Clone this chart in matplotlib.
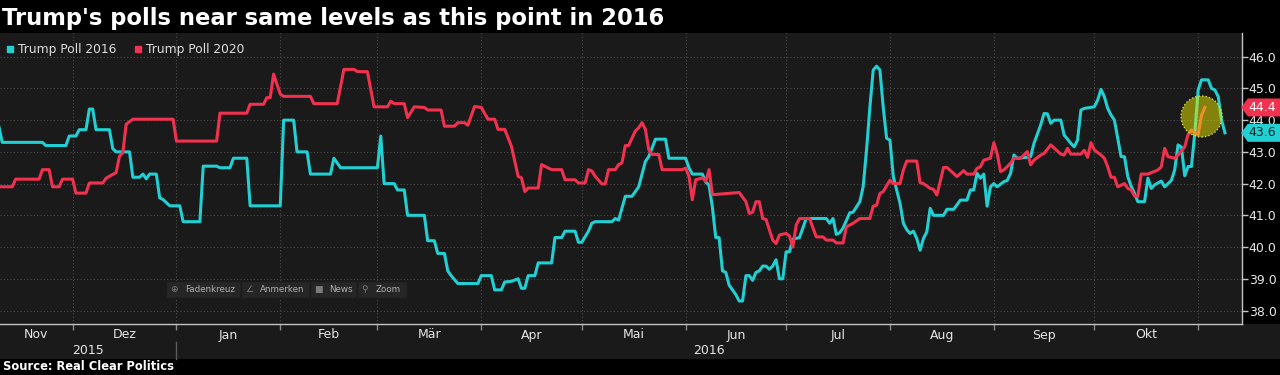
import matplotlib
matplotlib.use("Agg")
import matplotlib.pyplot as plt
import matplotlib.dates as mdates
import matplotlib.patches as mpatches
import matplotlib.transforms as mtransforms
from matplotlib.path import Path
from matplotlib.lines import Line2D
import pandas as pd

# ---------------- data ----------------
title = "Trump's polls near same levels as this point in 2016"
source = "Source: Real Clear Politics"
series_names = ["Trump Poll 2016", "Trump Poll 2020"]
month_names = ["Nov", "Dez", "Jan", "Feb", "Mär", "Apr", "Mai",
               "Jun", "Jul", "Aug", "Sep", "Okt"]
year_labels = ["2015", "2016"]
y_ticks = [38.0, 39.0, 40.0, 41.0, 42.0, 43.0, 44.0, 45.0, 46.0]
toolbar_items = ["Fadenkreuz", "Anmerken", "News", "Zoom"]

poll2016_dates = [
    "2015-11-09", "2015-11-10", "2015-11-22", "2015-11-23", "2015-11-29", "2015-11-30",
    "2015-12-02", "2015-12-03", "2015-12-05", "2015-12-06", "2015-12-07", "2015-12-08",
    "2015-12-12", "2015-12-13", "2015-12-14", "2015-12-18", "2015-12-19", "2015-12-21",
    "2015-12-22", "2015-12-23", "2015-12-24", "2015-12-26", "2015-12-27", "2015-12-28",
    "2015-12-30", "2016-01-02", "2016-01-03", "2016-01-08", "2016-01-09", "2016-01-13",
    "2016-01-14", "2016-01-17", "2016-01-18", "2016-01-22", "2016-01-23", "2016-02-01",
    "2016-02-02", "2016-02-05", "2016-02-06", "2016-02-09", "2016-02-10", "2016-02-16",
    "2016-02-17", "2016-02-19", "2016-03-01", "2016-03-02", "2016-03-03", "2016-03-06",
    "2016-03-07", "2016-03-09", "2016-03-10", "2016-03-15", "2016-03-16", "2016-03-18",
    "2016-03-19", "2016-03-21", "2016-03-22", "2016-03-23", "2016-03-25", "2016-03-31",
    "2016-04-01", "2016-04-04", "2016-04-05", "2016-04-07", "2016-04-08", "2016-04-10",
    "2016-04-12", "2016-04-13", "2016-04-14", "2016-04-15", "2016-04-17", "2016-04-18",
    "2016-04-22", "2016-04-23", "2016-04-25", "2016-04-26", "2016-04-29", "2016-04-30",
    "2016-05-01", "2016-05-03", "2016-05-04", "2016-05-05", "2016-05-10", "2016-05-11",
    "2016-05-12", "2016-05-14", "2016-05-16", "2016-05-18", "2016-05-19", "2016-05-20",
    "2016-05-21", "2016-05-23", "2016-05-26", "2016-05-27", "2016-06-01", "2016-06-02",
    "2016-06-03", "2016-06-06", "2016-06-07", "2016-06-08", "2016-06-09", "2016-06-10",
    "2016-06-11", "2016-06-12", "2016-06-13", "2016-06-14", "2016-06-16", "2016-06-17",
    "2016-06-18", "2016-06-19", "2016-06-20", "2016-06-21", "2016-06-22", "2016-06-23",
    "2016-06-24", "2016-06-25", "2016-06-26", "2016-06-27", "2016-06-28", "2016-06-29",
    "2016-06-30", "2016-07-01", "2016-07-02", "2016-07-03", "2016-07-05", "2016-07-07",
    "2016-07-13", "2016-07-14", "2016-07-15", "2016-07-16", "2016-07-17", "2016-07-18",
    "2016-07-20", "2016-07-21", "2016-07-23", "2016-07-24", "2016-07-25", "2016-07-26",
    "2016-07-27", "2016-07-28", "2016-07-29", "2016-07-30", "2016-07-31", "2016-08-01",
    "2016-08-02", "2016-08-03", "2016-08-04", "2016-08-05", "2016-08-06", "2016-08-07",
    "2016-08-08", "2016-08-09", "2016-08-10", "2016-08-11", "2016-08-12", "2016-08-13",
    "2016-08-14", "2016-08-17", "2016-08-18", "2016-08-20", "2016-08-21", "2016-08-22",
    "2016-08-24", "2016-08-25", "2016-08-26", "2016-08-27", "2016-08-28", "2016-08-29",
    "2016-08-30", "2016-08-31", "2016-09-01", "2016-09-02", "2016-09-04", "2016-09-05",
    "2016-09-06", "2016-09-07", "2016-09-08", "2016-09-11", "2016-09-12", "2016-09-13",
    "2016-09-15", "2016-09-16", "2016-09-17", "2016-09-18", "2016-09-19", "2016-09-21",
    "2016-09-22", "2016-09-24", "2016-09-25", "2016-09-26", "2016-09-27", "2016-09-28",
    "2016-10-01", "2016-10-02", "2016-10-03", "2016-10-04", "2016-10-05", "2016-10-06",
    "2016-10-07", "2016-10-08", "2016-10-09", "2016-10-10", "2016-10-11", "2016-10-12",
    "2016-10-13", "2016-10-14", "2016-10-16", "2016-10-17", "2016-10-18", "2016-10-19",
    "2016-10-21", "2016-10-22", "2016-10-24", "2016-10-25", "2016-10-26", "2016-10-27",
    "2016-10-28", "2016-10-29", "2016-10-30", "2016-10-31", "2016-11-01", "2016-11-02",
    "2016-11-04", "2016-11-05", "2016-11-06", "2016-11-07", "2016-11-08", "2016-11-09",
]
poll2016_values = [
    43.8, 43.3, 43.3, 43.2, 43.2, 43.5,
    43.5, 43.7, 43.7, 44.35, 44.35, 43.7,
    43.7, 43.1, 43.0, 43.0, 42.2, 42.2,
    42.3, 42.15, 42.3, 42.3, 41.55, 41.5,
    41.3, 41.3, 40.8, 40.8, 42.55, 42.55,
    42.5, 42.5, 42.8, 42.8, 41.3, 41.3,
    44.0, 44.0, 43.0, 43.0, 42.3, 42.3,
    42.8, 42.5, 42.5, 43.5, 42.0, 42.0,
    41.8, 41.8, 41.0, 41.0, 40.2, 40.2,
    39.8, 39.8, 39.25, 39.1, 38.85, 38.85,
    39.1, 39.1, 38.65, 38.65, 38.9, 38.92,
    39.0, 38.7, 38.7, 39.1, 39.1, 39.5,
    39.5, 40.3, 40.3, 40.5, 40.5, 40.15,
    40.15, 40.5, 40.75, 40.8, 40.8, 40.9,
    40.85, 41.6, 41.6, 41.9, 42.3, 42.7,
    42.85, 43.4, 43.4, 42.8, 42.8, 42.5,
    42.3, 42.3, 42.05, 41.95, 41.25, 40.3,
    40.3, 39.25, 39.2, 38.8, 38.5, 38.3,
    38.3, 39.1, 39.1, 38.95, 39.2, 39.25,
    39.4, 39.4, 39.3, 39.4, 39.6, 39.0,
    39.0, 39.85, 39.85, 40.25, 40.3, 40.9,
    40.9, 40.75, 40.9, 40.4, 40.45, 40.6,
    41.08, 41.1, 41.43, 41.9, 43.05, 44.4,
    45.58, 45.7, 45.58, 44.4, 43.43, 43.37,
    42.22, 41.8, 41.38, 40.75, 40.55, 40.43,
    40.5, 40.27, 39.9, 40.27, 40.48, 41.22,
    41.0, 41.0, 41.19, 41.19, 41.33, 41.48,
    41.48, 41.8, 41.8, 42.32, 42.17, 42.3,
    41.29, 41.9, 42.0, 41.9, 42.06, 42.1,
    42.32, 42.9, 42.8, 42.83, 42.85, 43.27,
    43.85, 44.21, 44.2, 43.9, 44.0, 44.0,
    43.53, 43.27, 43.16, 43.37, 44.32, 44.37,
    44.42, 44.63, 44.97, 44.74, 44.37, 44.16,
    44.0, 43.43, 42.85, 42.85, 42.22, 41.92,
    41.69, 41.43, 41.43, 42.17, 41.85, 41.96,
    42.08, 41.9, 42.1, 42.43, 43.22, 43.15,
    42.25, 42.54, 42.54, 43.6, 44.95, 45.27,
    45.27, 45.0, 44.95, 44.74, 44.0, 43.6,
]

# 2020 poll, aligned on the 2016 calendar
poll2020_dates = [
    "2015-11-09", "2015-11-13", "2015-11-14", "2015-11-21", "2015-11-22", "2015-11-24",
    "2015-11-25", "2015-11-27", "2015-11-28", "2015-12-01", "2015-12-02", "2015-12-05",
    "2015-12-06", "2015-12-10", "2015-12-11", "2015-12-14", "2015-12-15", "2015-12-16",
    "2015-12-17", "2015-12-19", "2015-12-31", "2016-01-01", "2016-01-13", "2016-01-14",
    "2016-01-22", "2016-01-23", "2016-01-27", "2016-01-28", "2016-01-29", "2016-01-30",
    "2016-02-01", "2016-02-02", "2016-02-10", "2016-02-11", "2016-02-18", "2016-02-20",
    "2016-02-23", "2016-02-24", "2016-02-27", "2016-02-29", "2016-03-04", "2016-03-05",
    "2016-03-06", "2016-03-09", "2016-03-10", "2016-03-12", "2016-03-15", "2016-03-16",
    "2016-03-20", "2016-03-21", "2016-03-24", "2016-03-25", "2016-03-27", "2016-03-28",
    "2016-03-30", "2016-04-01", "2016-04-03", "2016-04-05", "2016-04-06", "2016-04-08",
    "2016-04-10", "2016-04-12", "2016-04-13", "2016-04-14", "2016-04-15", "2016-04-18",
    "2016-04-19", "2016-04-21", "2016-04-22", "2016-04-25", "2016-04-26", "2016-04-29",
    "2016-04-30", "2016-05-02", "2016-05-03", "2016-05-04", "2016-05-05", "2016-05-07",
    "2016-05-08", "2016-05-09", "2016-05-11", "2016-05-12", "2016-05-13", "2016-05-14",
    "2016-05-15", "2016-05-17", "2016-05-18", "2016-05-19", "2016-05-20", "2016-05-21",
    "2016-05-22", "2016-05-24", "2016-05-25", "2016-05-31", "2016-06-01", "2016-06-02",
    "2016-06-03", "2016-06-04", "2016-06-06", "2016-06-07", "2016-06-08", "2016-06-09",
    "2016-06-17", "2016-06-19", "2016-06-20", "2016-06-21", "2016-06-22", "2016-06-23",
    "2016-06-24", "2016-06-25", "2016-06-27", "2016-06-28", "2016-06-29", "2016-07-01",
    "2016-07-02", "2016-07-03", "2016-07-04", "2016-07-05", "2016-07-08", "2016-07-10",
    "2016-07-12", "2016-07-13", "2016-07-15", "2016-07-16", "2016-07-18", "2016-07-19",
    "2016-07-21", "2016-07-23", "2016-07-26", "2016-07-27", "2016-07-28", "2016-07-29",
    "2016-07-30", "2016-08-01", "2016-08-02", "2016-08-04", "2016-08-05", "2016-08-06",
    "2016-08-09", "2016-08-10", "2016-08-11", "2016-08-13", "2016-08-14", "2016-08-15",
    "2016-08-16", "2016-08-17", "2016-08-18", "2016-08-20", "2016-08-21", "2016-08-23",
    "2016-08-24", "2016-08-26", "2016-08-27", "2016-08-28", "2016-08-29", "2016-08-31",
    "2016-09-01", "2016-09-02", "2016-09-03", "2016-09-04", "2016-09-06", "2016-09-07",
    "2016-09-09", "2016-09-11", "2016-09-12", "2016-09-13", "2016-09-15", "2016-09-16",
    "2016-09-18", "2016-09-19", "2016-09-21", "2016-09-22", "2016-09-23", "2016-09-24",
    "2016-09-27", "2016-09-28", "2016-09-29", "2016-09-30", "2016-10-01", "2016-10-03",
    "2016-10-04", "2016-10-05", "2016-10-06", "2016-10-07", "2016-10-08", "2016-10-10",
    "2016-10-11", "2016-10-12", "2016-10-13", "2016-10-14", "2016-10-15", "2016-10-17",
    "2016-10-20", "2016-10-21", "2016-10-22", "2016-10-23", "2016-10-25", "2016-10-26",
    "2016-10-28", "2016-10-29", "2016-10-30", "2016-10-31", "2016-11-01", "2016-11-02",
    "2016-11-03",
]
poll2020_values = [
    41.9, 41.9, 42.14, 42.14, 42.44, 42.44,
    41.9, 41.9, 42.14, 42.14, 41.7, 41.7,
    42.02, 42.02, 42.17, 42.35, 42.86, 42.98,
    43.87, 44.03, 44.03, 43.34, 43.34, 44.22,
    44.22, 44.5, 44.5, 44.71, 44.71, 45.45,
    44.82, 44.75, 44.75, 44.52, 44.52, 45.6,
    45.6, 45.53, 45.53, 44.42, 44.42, 44.6,
    44.52, 44.52, 44.08, 44.42, 44.4, 44.32,
    44.32, 43.81, 43.81, 43.92, 43.92, 43.84,
    44.43, 44.4, 44.03, 44.03, 43.71, 43.71,
    43.18, 42.23, 42.18, 41.75, 41.86, 41.86,
    42.6, 42.49, 42.44, 42.44, 42.12, 42.12,
    42.02, 42.02, 42.44, 42.4, 42.23, 41.99,
    41.99, 42.44, 42.44, 42.6, 42.65, 43.2,
    43.2, 43.66, 43.76, 43.92, 43.71, 43.07,
    42.92, 42.92, 42.44, 42.44, 42.49, 42.23,
    41.49, 42.12, 42.18, 42.07, 42.44, 41.65,
    41.72, 41.43, 41.06, 41.1, 41.43, 41.43,
    40.9, 40.87, 40.22, 40.11, 40.38, 40.43,
    40.35, 40.0, 40.69, 40.9, 40.9, 40.32,
    40.32, 40.22, 40.22, 40.13, 40.13, 40.64,
    40.75, 40.9, 40.9, 41.29, 41.32, 41.69,
    41.75, 42.11, 42.0, 42.0, 42.43, 42.71,
    42.71, 42.03, 42.0, 41.85, 41.82, 41.64,
    42.06, 42.51, 42.51, 42.32, 42.22, 42.41,
    42.3, 42.3, 42.48, 42.53, 42.74, 42.8,
    43.29, 42.95, 42.38, 42.43, 42.64, 42.8,
    42.8, 43.01, 42.59, 42.74, 42.9, 42.95,
    43.22, 43.12, 42.93, 42.9, 43.11, 42.93,
    42.93, 43.05, 42.83, 43.29, 43.06, 42.9,
    42.8, 42.53, 42.2, 42.2, 41.9, 42.0,
    41.85, 41.8, 41.61, 41.6, 42.3, 42.3,
    42.43, 42.53, 43.11, 42.85, 42.8, 42.9,
    43.16, 43.55, 43.69, 43.6, 43.55, 44.15,
    44.4,
]

assert len(poll2016_dates) == len(poll2016_values)
assert len(poll2020_dates) == len(poll2020_values)

# ---------------- style ----------------
W, H = 1280, 375
CYAN = "#22cfd2"
RED = "#f2314f"
BG = "#1a1a1a"
GRID = "#4d4d4d"
SPINE = "#c4c4c4"
TXT = "#e6e6e6"


def fx(x):
    return x / W


def fy(y):
    return 1 - y / H


fig = plt.figure(figsize=(W / 100, H / 100), dpi=100, facecolor="black")

# grey strip holding the time axis labels
fig.add_artist(mpatches.Rectangle((0, fy(359)), 1, fy(324) - fy(359),
                                  transform=fig.transFigure, facecolor=BG,
                                  edgecolor="none", zorder=-1))

ax = fig.add_axes([0, fy(324), fx(1241.7), fy(33) - fy(324)])
ax.set_facecolor(BG)

d16 = pd.to_datetime(poll2016_dates)
d20 = pd.to_datetime(poll2020_dates)
ax.plot(d16, poll2016_values, color=CYAN, lw=2.2, solid_joinstyle="round", zorder=3)
ax.plot(d20, poll2020_values, color=RED, lw=2.2, solid_joinstyle="round", zorder=4)

x0 = pd.Timestamp("2015-11-09 08:00")
x1 = pd.Timestamp("2016-11-14 00:00")
ax.set_xlim(x0, x1)
ax.set_ylim(37.575, 46.747)

# spines
for s in ["top", "left"]:
    ax.spines[s].set_visible(False)
for s in ["right", "bottom"]:
    ax.spines[s].set_color(SPINE)
    ax.spines[s].set_linewidth(1.0)

# y axis on the right
ax.yaxis.tick_right()
ax.set_yticks(y_ticks)
ax.set_yticklabels([f"{v:.1f}" for v in y_ticks])
ax.tick_params(axis="y", colors=SPINE, labelcolor=TXT, labelsize=9,
               length=4, width=1, direction="out", pad=1)

# x axis: month boundaries
ax.xaxis.set_major_locator(mdates.MonthLocator())
ax.tick_params(axis="x", colors="#8a8a8a", length=4, width=1,
               direction="out", labelbottom=False)

ax.grid(True, axis="both", color=GRID, linestyle=(0, (1, 2)), lw=0.8)
ax.set_axisbelow(True)

# month labels centred on the visible part of each month
lab_tr = mtransforms.blended_transform_factory(ax.transData, fig.transFigure)
months = pd.date_range("2015-11-01", periods=len(month_names), freq="MS")
for name, m in zip(month_names, months):
    a = max(m, x0)
    b = min(m + pd.offsets.MonthBegin(1), x1)
    c = a + (b - a) / 2
    ax.text(c, fy(335), name, transform=lab_tr, ha="center", va="center",
            fontsize=9, color=TXT, clip_on=False)

# year labels + separator
year_start = pd.Timestamp("2016-01-01")
for name, (a, b) in zip(year_labels, [(x0, year_start), (year_start, x1)]):
    ax.text(a + (b - a) / 2, fy(351), name, transform=lab_tr, ha="center",
            va="center", fontsize=9, color=TXT, clip_on=False)
fig.add_artist(Line2D([mdates.date2num(year_start)] * 2, [fy(342), fy(359)],
                      transform=lab_tr, color="#5c5c5c", lw=1))

# legend
handles = [Line2D([], [], marker="s", ls="none", color=c, ms=4.2)
           for c in (CYAN, RED)]
ax.legend(handles, series_names, loc="upper left",
          bbox_to_anchor=(0, 1 - 4 / 291), ncol=2, frameon=False,
          handlelength=0.6, handletextpad=0.38, columnspacing=1.41,
          borderaxespad=0, borderpad=0.52, fontsize=8.8, labelcolor="#dedede")

# title and source
fig.text(fx(2), fy(25.5), title, fontsize=16.3, weight="bold", color="white",
         va="baseline", ha="left")
fig.text(fx(3), fy(367), source, fontsize=8.3, weight="bold", color="white",
         va="center", ha="left")


# last value tags on the right axis
def pentagon(x0_, y0_, width, height, mutation_size):
    padx = 0.06 * mutation_size
    pady = 0.2 * mutation_size
    xa, ya = x0_ - padx, y0_ - pady
    h = height + 2 * pady
    xb = x0_ + width + padx + 12
    tip = 0.36 * h
    verts = [(xa - tip, ya + h / 2), (xa, ya), (xb, ya), (xb, ya + h),
             (xa, ya + h), (xa - tip, ya + h / 2)]
    return Path(verts, closed=True)


tag_tr = mtransforms.blended_transform_factory(ax.transAxes, ax.transData)
for val, fc, tc in [(poll2016_values[-1], CYAN, "#062424"),
                    (poll2020_values[-1], RED, "white")]:
    ax.annotate(f"{val:.1f}", xy=(1, val), xycoords=tag_tr,
                xytext=(4.9, 0), textcoords="offset points",
                ha="left", va="center", fontsize=9, color=tc,
                bbox=dict(boxstyle=pentagon, fc=fc, ec="none"),
                annotation_clip=False, zorder=7)

# highlight circle near the latest 2020 reading
px, py = ax.transData.transform((mdates.date2num(d20[-1]), poll2020_values[-1]))
fig.add_artist(mpatches.Circle((px - 3.3, py - 9), 20.5,
                               transform=mtransforms.IdentityTransform(),
                               facecolor=(0.92, 0.92, 0.0, 0.5),
                               edgecolor="#d8d840", linestyle=(0, (1, 1.5)),
                               lw=1, zorder=6))

# chart toolbar overlay
tb_top, tb_bot = 281, 298
buttons = [(166, 241), (241, 310), (310, 357), (357, 407)]
icons = ["⊕", "∠", "■", "⚲"]
for (bx0, bx1), icon, label in zip(buttons, icons, toolbar_items):
    fig.add_artist(mpatches.Rectangle((fx(bx0), fy(tb_bot)), fx(bx1 - bx0),
                                      fy(tb_top) - fy(tb_bot),
                                      transform=fig.transFigure,
                                      facecolor="#262626", edgecolor="#1b1b1b",
                                      lw=1, zorder=8))
    ymid = fy((tb_top + tb_bot) / 2)
    fig.text(fx(bx0 + 8), ymid, icon, fontsize=6.5, color="#7c7c7c",
             ha="center", va="center", zorder=9)
    fig.text(fx(bx0 + 19), ymid, label, fontsize=6.3, color="#b0b0b0",
             ha="left", va="center", zorder=9)

fig.savefig("out.png", dpi=100, facecolor="black")
